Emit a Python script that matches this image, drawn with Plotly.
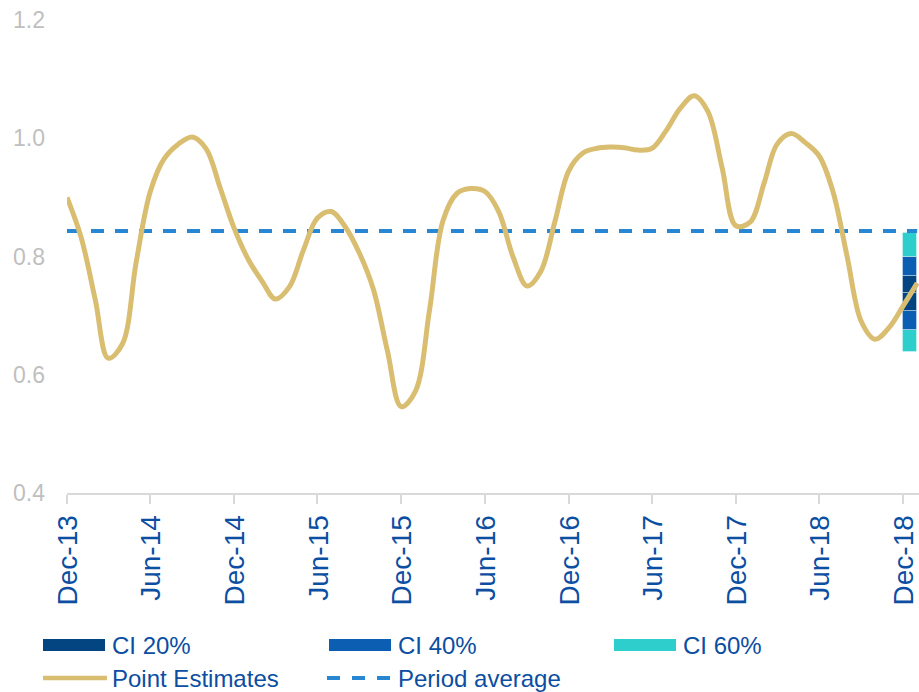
import plotly.graph_objects as go
import pandas as pd

# ---------------- data ----------------
start_month = "2013-12-01"
point_estimates = [
    0.900, 0.832, 0.726, 0.628, 0.652, 0.790, 0.910, 0.965, 0.990, 1.002,
    0.982, 0.915, 0.848, 0.795, 0.757, 0.728, 0.749, 0.810, 0.865, 0.876,
    0.850, 0.805, 0.745, 0.640, 0.546, 0.572, 0.710, 0.860, 0.907, 0.915,
    0.910, 0.876, 0.800, 0.750, 0.775, 0.860, 0.945, 0.975, 0.983, 0.985,
    0.984, 0.980, 0.983, 1.012, 1.050, 1.072, 1.045, 0.950, 0.852, 0.858,
    0.925, 0.990, 1.008, 0.993, 0.970, 0.910, 0.800, 0.690, 0.660, 0.680,
    0.716, 0.755,
]
dates = pd.date_range(start_month, periods=len(point_estimates), freq="MS")
period_average = 0.843

ci_date = "2018-12-16"
ci_median = 0.7375
ci20 = (0.708, 0.767)
ci40 = (0.676, 0.799)
ci60 = (0.639, 0.840)

x_range = ["2013-12-01", "2019-01-05"]
y_ticks = [0.4, 0.6, 0.8, 1.0, 1.2]

# ---------------- style ----------------
GOLD = "#D9BE71"
NAVY = "#034580"
BLUE = "#0B5EB2"
CYAN = "#2DCECC"
DASH = "#2887D2"
TXT = "#0B4EA2"
GRAY_TXT = "#BFBFBF"
AXIS = "#D9D9D9"
FONT = "Arial, Liberation Sans, sans-serif"

W, H = 919, 692
L, R, T, B = 67, 0, 20, 199
PW, PH = W - L - R, H - T - B


def px(X):
    return (X - L) / PW


def py(Y):
    return (H - B - Y) / PH


fig = go.Figure()

bar_w = 31 * 86400000
seg_line = dict(color="rgba(255,255,255,0.35)", width=1)
segments = [
    (ci60[0], ci40[0], CYAN),
    (ci40[0], ci20[0], BLUE),
    (ci20[0], ci_median, NAVY),
    (ci_median, ci20[1], NAVY),
    (ci20[1], ci40[1], BLUE),
    (ci40[1], ci60[1], CYAN),
]
for lo, hi, col in segments:
    fig.add_trace(go.Bar(
        x=[ci_date], y=[hi - lo], base=[lo], width=[bar_w],
        marker=dict(color=col, line=seg_line), showlegend=False,
        hoverinfo="skip",
    ))

fig.add_trace(go.Scatter(
    x=[dates[0], dates[-1]], y=[period_average, period_average],
    mode="lines", line=dict(color=DASH, width=4, dash="13px,11px"),
    showlegend=False, name="Period average",
))

fig.add_trace(go.Scatter(
    x=dates, y=point_estimates, mode="lines",
    line=dict(color=GOLD, width=5, shape="spline", smoothing=1.0),
    showlegend=False, name="Point Estimates",
))

# ---------------- manual legend ----------------
shapes = []
annotations = []
legend_rows = [
    [("rect", NAVY, "CI 20%"), ("rect", BLUE, "CI 40%"), ("rect", CYAN, "CI 60%")],
    [("line", GOLD, "Point Estimates"), ("dash", DASH, "Period average")],
]
col_x = [43, 329, 614]
row_y = [645, 678]
for r, row in enumerate(legend_rows):
    for c, (kind, col, label) in enumerate(row):
        x0 = col_x[c]
        x1 = x0 + 62
        yc = row_y[r]
        if kind == "rect":
            shapes.append(dict(type="rect", xref="paper", yref="paper",
                               x0=px(x0), x1=px(x1), y0=py(yc + 6), y1=py(yc - 6),
                               fillcolor=col, line=dict(width=0)))
        elif kind == "line":
            shapes.append(dict(type="line", xref="paper", yref="paper",
                               x0=px(x0), x1=px(x1 + 2), y0=py(yc), y1=py(yc),
                               line=dict(color=col, width=4.5)))
        else:
            shapes.append(dict(type="line", xref="paper", yref="paper",
                               x0=px(x0 - 2), x1=px(x1), y0=py(yc), y1=py(yc),
                               line=dict(color=col, width=4, dash="13px,12px")))
        annotations.append(dict(xref="paper", yref="paper", x=px(x1 + 5), y=py(yc),
                                xanchor="left", yanchor="middle", showarrow=False,
                                text=label, font=dict(family=FONT, size=24, color=TXT)))

fig.update_layout(
    width=W, height=H,
    margin=dict(l=L, r=R, t=T, b=B, pad=0),
    paper_bgcolor="white", plot_bgcolor="white",
    barmode="overlay", bargap=0,
    showlegend=False,
    shapes=shapes, annotations=annotations,
    font=dict(family=FONT),
)
fig.update_xaxes(
    type="date", range=x_range, tick0="2013-12-01", dtick="M6",
    tickformat="%b-%y", tickangle=-90,
    tickfont=dict(family=FONT, size=28, color=TXT),
    ticks="outside", ticklen=9, tickwidth=1.5, tickcolor=AXIS,
    showline=True, linecolor=AXIS, linewidth=2,
    showgrid=False, zeroline=False, ticklabelstandoff=0, ticklabelshift=1,
    ticklabeloverflow="allow",
)
fig.update_yaxes(
    range=[0.4, 1.2], tickvals=y_ticks, tickformat=".1f",
    tickfont=dict(family=FONT, size=23, color=GRAY_TXT),
    showline=False, showgrid=False, zeroline=False,
    ticks="", ticklabelstandoff=21,
)

post = (
    "document.documentElement.style.overflow='hidden';"
    "document.body.style.margin='0';"
    "document.body.style.overflow='hidden';"
    "var gd=document.getElementById('{plot_id}');"
    "gd.style.overflow='hidden';gd.style.width='919px';gd.style.height='692px';"
    "gd.querySelectorAll('.svg-container, svg.main-svg').forEach(function(e){e.style.overflow='hidden';});"
)

fig.write_html(
    "out.html",
    config={"displayModeBar": False},
    post_script=post,
)
